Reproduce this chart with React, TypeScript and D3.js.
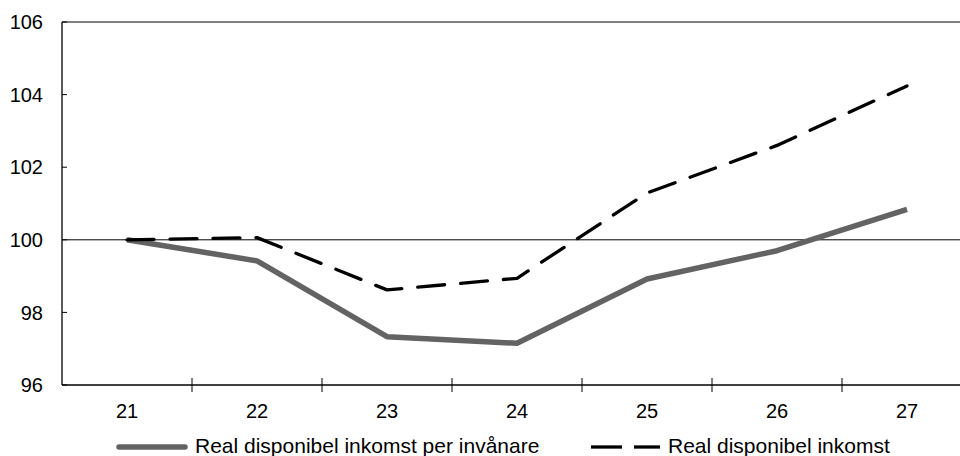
import React from 'react';
import * as d3 from 'd3';

const years = ['21', '22', '23', '24', '25', '26', '27'];
const perCapita = [100, 99.42, 97.33, 97.15, 98.92, 99.7, 100.84];
const total = [100, 100.06, 98.62, 98.94, 101.29, 102.6, 104.24];
const yTicks = [96, 98, 100, 102, 104, 106];

const W = 960;
const H = 456;
const margin = { top: 22, left: 62, right: 972, bottom: 385 };

const App: React.FC = () => {
  const x = d3.scaleBand<string>().domain(years).range([margin.left, margin.right]).padding(0);
  const y = d3.scaleLinear().domain([96, 106]).range([margin.bottom, margin.top]);
  const cx = (d: string) => (x(d) ?? 0) + x.bandwidth() / 2;

  const line = d3
    .line<number>()
    .x((_, i) => cx(years[i]))
    .y((d) => y(d));

  const font = 'Liberation Sans, Arial, sans-serif';

  return (
    <svg
      width={W}
      height={H}
      style={{ position: 'absolute', left: 0, top: 0, background: '#fff' }}
      fontFamily={font}
    >
      {/* top frame */}
      <line x1={margin.left} x2={W} y1={y(106)} y2={y(106)} stroke="#555" strokeWidth={1.3} />
      {/* 100 reference line */}
      <line x1={margin.left} x2={W} y1={y(100)} y2={y(100)} stroke="#000" strokeWidth={1} />
      {/* y axis */}
      <line x1={margin.left} x2={margin.left} y1={y(106)} y2={y(96)} stroke="#000" strokeWidth={1.3} />
      {yTicks.map((t) => (
        <g key={t}>
          <line x1={margin.left} x2={margin.left + 5} y1={y(t)} y2={y(t)} stroke="#000" strokeWidth={1} />
          <text x={43} y={y(t)} dy="0.36em" textAnchor="end" fontSize={20} fill="#000">
            {t}
          </text>
        </g>
      ))}
      {/* x axis */}
      <line x1={margin.left} x2={W} y1={y(96)} y2={y(96)} stroke="#000" strokeWidth={1.3} />
      {years.slice(1).map((d) => (
        <line key={d} x1={x(d)} x2={x(d)} y1={y(96) - 7} y2={y(96) + 7} stroke="#000" strokeWidth={1} />
      ))}
      {years.map((d) => (
        <text key={d} x={cx(d)} y={418} textAnchor="middle" fontSize={20} fill="#000">
          {d}
        </text>
      ))}
      {/* series */}
      <path d={line(perCapita) ?? ''} fill="none" stroke="#636363" strokeWidth={5.5} strokeLinejoin="round" />
      <path
        d={line(total) ?? ''}
        fill="none"
        stroke="#000"
        strokeWidth={3.3}
        strokeDasharray="27,16"
        strokeLinecap="round"
        strokeLinejoin="round"
      />
      {/* legend */}
      <line x1={119} x2={185} y1={447} y2={447} stroke="#636363" strokeWidth={5.5} strokeLinecap="round" />
      <text x={195} y={453} fontSize={21} fill="#000">
        Real disponibel inkomst per invånare
      </text>
      <line x1={591} x2={622} y1={447} y2={447} stroke="#000" strokeWidth={3.3} />
      <line x1={634} x2={660} y1={447} y2={447} stroke="#000" strokeWidth={3.3} />
      <text x={668} y={453} fontSize={21} fill="#000">
        Real disponibel inkomst
      </text>
    </svg>
  );
};

export default App;
